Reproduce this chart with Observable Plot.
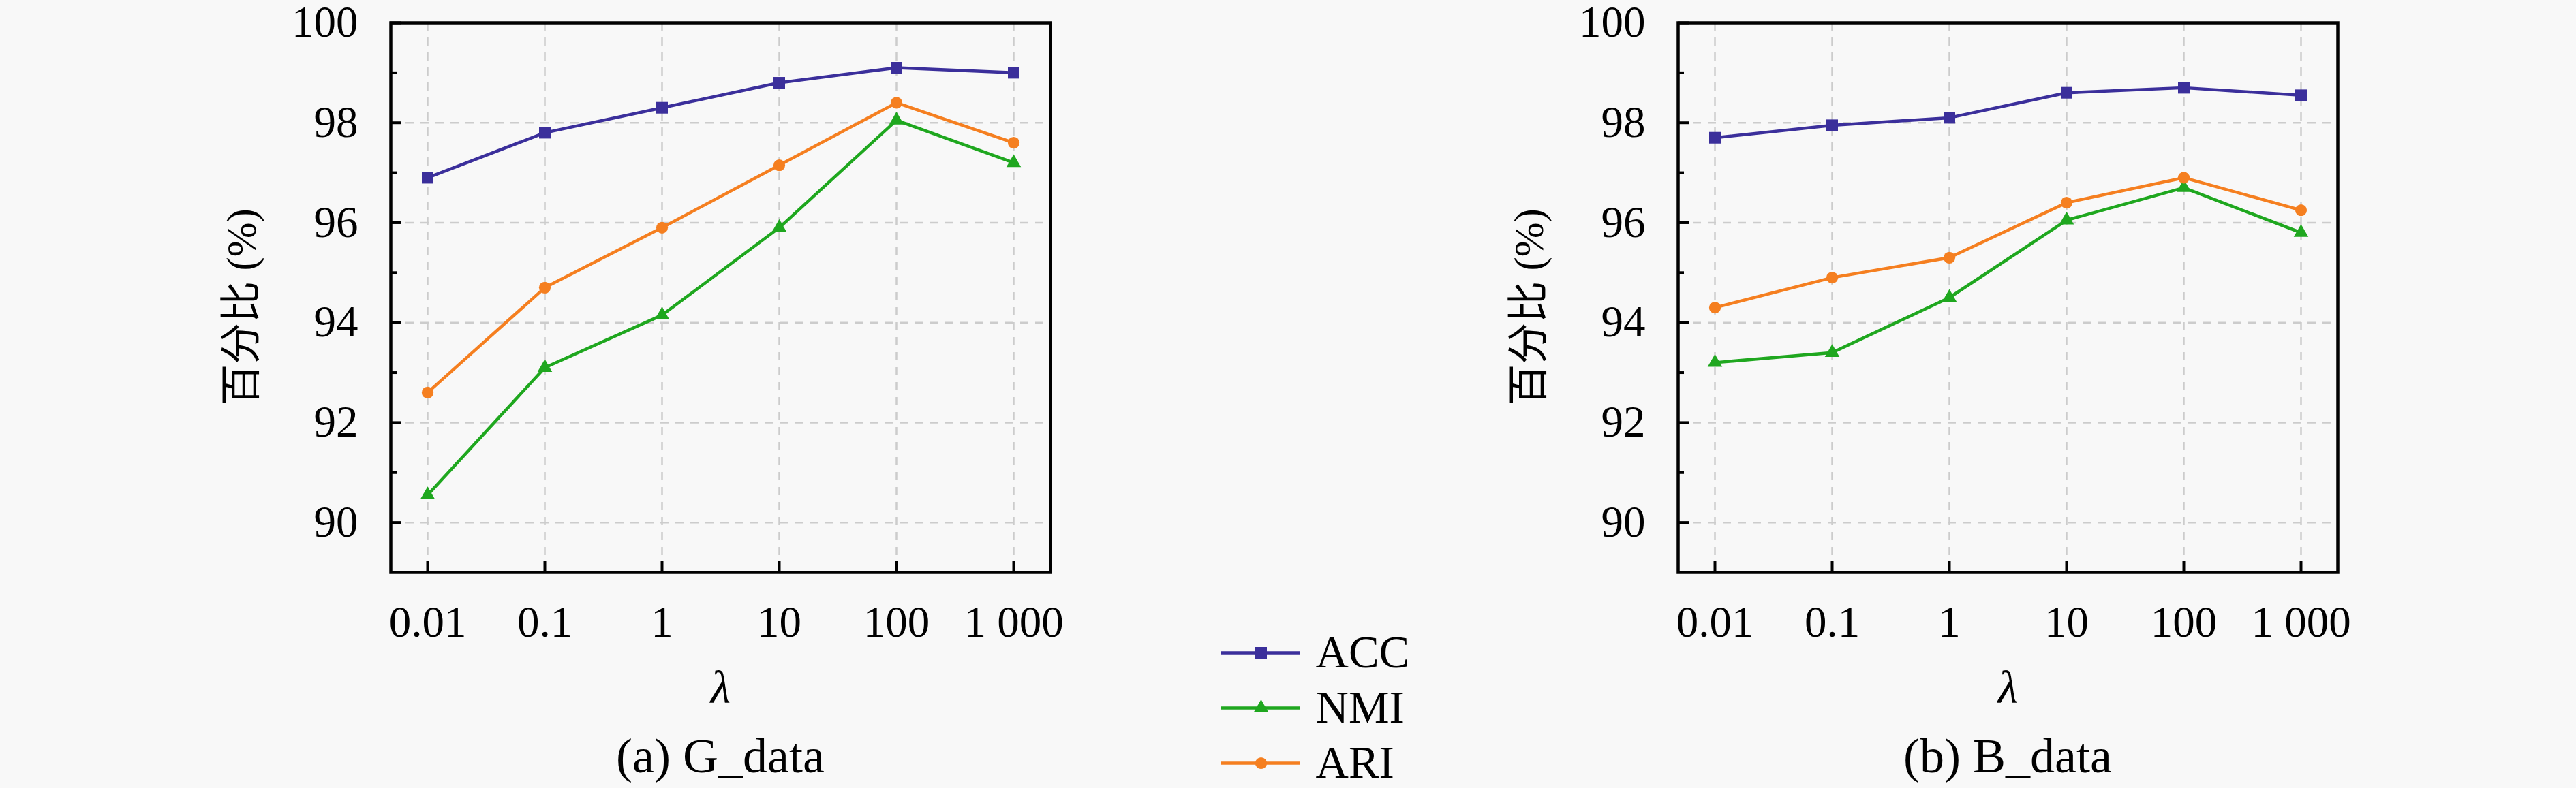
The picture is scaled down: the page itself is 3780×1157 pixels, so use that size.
<!DOCTYPE html>
<html><head><meta charset="utf-8">
<script src="https://cdn.jsdelivr.net/npm/d3@7"></script>
<script src="https://cdn.jsdelivr.net/npm/@observablehq/plot@0.6"></script>
<style>
html,body{margin:0;padding:0;background:#f8f8f8;width:3780px;height:1157px;overflow:hidden}
#root{position:relative;width:3780px;height:1157px;font-family:"Liberation Serif",serif}
.panel{position:absolute;top:0;overflow:visible}
#root svg text{font-family:"Liberation Serif","Noto Sans CJK SC",serif !important;font-variant:normal !important}
.cap{position:absolute;font-size:72px;transform:translate(-50%,-50%);white-space:nowrap;color:#000;font-family:"Liberation Serif",serif}
</style></head><body><div id="root"></div>
<script>
// ---- data ----
const lambdas = ["0.01", "0.1", "1", "10", "100", "1 000"];
const seriesNames = ["ACC", "NMI", "ARI"];
const seriesColors = ["#3b2f9b", "#1fa71f", "#f57f20"];
const seriesSymbols = ["square", "triangle", "circle"];
const seriesR = [9.6, 8, 8.6];

const gAcc = [96.9, 97.8, 98.3, 98.8, 99.1, 99.0];
const gNmi = [90.55, 93.1, 94.15, 95.9, 98.05, 97.2];
const gAri = [92.6, 94.7, 95.9, 97.15, 98.4, 97.6];

const bAcc = [97.7, 97.95, 98.1, 98.6, 98.7, 98.55];
const bNmi = [93.2, 93.4, 94.5, 96.05, 96.7, 95.8];
const bAri = [94.3, 94.9, 95.3, 96.4, 96.9, 96.25];

const yTicks = [90, 92, 94, 96, 98, 100];
const yMinor = [91, 93, 95, 97, 99];
const yDomain = [89, 100];
const yLabel = "百分比 (%)";
const xLabel = "λ";
const captions = ["(a) G_data", "(b) B_data"];

const root = document.getElementById("root");
const SERIF = "Liberation Serif";
const CJK = "Liberation Serif, Noto Sans CJK SC";

function panel(acc, nmi, ari) {
  const W = 1700, H = 1157, mL = 573, mR = 159, mT = 33, mB = 317;
  const pw = W - mL - mR, ph = H - mT - mB;
  const vals = [acc, nmi, ari];
  const rows = seriesNames.map((s, k) => lambdas.map((l, i) => ({lambda: l, value: vals[k][i], series: s})));
  const grid = {stroke: "#cccccc", strokeOpacity: 1, strokeWidth: 2.5, strokeDasharray: "12,10"};
  const tickStyle = {stroke: "#000", strokeWidth: 4};
  const marks = [
    Plot.gridX(lambdas, grid),
    Plot.gridY(yTicks, grid),
    Plot.ruleY(yTicks, {y: d => d, insetRight: pw - 16, ...tickStyle}),
    Plot.ruleY(yMinor, {y: d => d, insetRight: pw - 9, ...tickStyle}),
    Plot.ruleX(lambdas, {x: d => d, insetTop: ph - 16, ...tickStyle}),
    Plot.axisY(yTicks, {tickSize: 0, tickPadding: 48, fontSize: 65, fontFamily: SERIF, tickFormat: d => String(d), label: null}),
    Plot.axisX(lambdas, {tickSize: 0, tickPadding: 48, fontSize: 65, fontFamily: SERIF, label: null}),
    Plot.text([yLabel], {text: d => d, frameAnchor: "left", textAnchor: "middle", rotate: -90, dx: -218, dy: 14, fontSize: 61, fontFamily: CJK, lineAnchor: "middle"}),
    Plot.text([xLabel], {text: d => d, frameAnchor: "bottom", textAnchor: "middle", dy: 170, fontSize: 68, fontFamily: SERIF, fontStyle: "italic", lineAnchor: "middle"})
  ];
  seriesNames.forEach((s, k) => {
    marks.push(Plot.line(rows[k], {x: "lambda", y: "value", stroke: "series", strokeWidth: 4.5}));
  });
  seriesNames.forEach((s, k) => {
    marks.push(Plot.dot(rows[k], {x: "lambda", y: "value", fill: "series", symbol: "series", r: seriesR[k]}));
  });
  marks.push(Plot.frame({stroke: "#000", strokeWidth: 4.5}));
  return Plot.plot({
    width: W, height: H,
    marginLeft: mL, marginRight: mR, marginTop: mT, marginBottom: mB,
    style: {background: "transparent", fontFamily: SERIF, fontSize: "65px", color: "#000", overflow: "visible"},
    x: {type: "point", domain: lambdas, padding: 0.305, label: null},
    y: {domain: yDomain, label: null},
    color: {domain: seriesNames, range: seriesColors},
    symbol: {domain: seriesNames, range: seriesSymbols},
    marks
  });
}

function legend() {
  const W = 540, H = 257;
  const rows = seriesNames.map(s => ({series: s}));
  const marks = [
    Plot.ruleY(rows, {y: "series", x1: 0, x2: 1, stroke: "series", strokeWidth: 4.5}),
  ];
  seriesNames.forEach((s, k) => {
    marks.push(Plot.dot([rows[k]], {x: 0.5, y: "series", fill: "series", symbol: "series", r: seriesR[k]}));
  });
  marks.push(Plot.text(rows, {x: 1, y: "series", text: "series", textAnchor: "start", dx: 22, fontSize: 67, fill: "#000"}));
  return Plot.plot({
    width: W, height: H,
    marginLeft: 32, marginRight: 392, marginTop: 57, marginBottom: 37,
    style: {background: "transparent", fontFamily: SERIF, fontSize: "67px", overflow: "visible"},
    x: {domain: [0, 1], axis: null},
    y: {type: "point", domain: seriesNames, padding: 0, axis: null},
    color: {domain: seriesNames, range: seriesColors},
    symbol: {domain: seriesNames, range: seriesSymbols},
    marks
  });
}

const p1 = panel(gAcc, gNmi, gAri);
p1.classList.add("panel"); p1.style.left = "0px";
root.appendChild(p1);
const p2 = panel(bAcc, bNmi, bAri);
p2.classList.add("panel"); p2.style.left = "1889px";
root.appendChild(p2);
const lg = legend();
lg.style.position = "absolute"; lg.style.left = "1760px"; lg.style.top = "900px";
root.appendChild(lg);

[[captions[0], 1057], [captions[1], 2946]].forEach(([t, cx]) => {
  const d = document.createElement("div");
  d.className = "cap"; d.textContent = t;
  d.style.left = cx + "px"; d.style.top = "1110px";
  root.appendChild(d);
});
</script></body></html>
